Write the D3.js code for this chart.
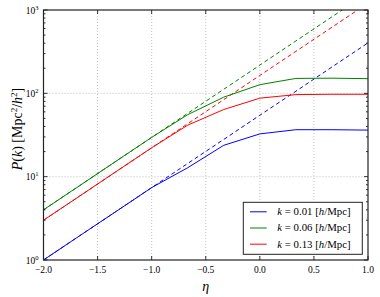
<!DOCTYPE html>
<html>
<head>
<meta charset="utf-8">
<script src="https://cdn.jsdelivr.net/npm/d3@7"></script>
<style>
  body { margin: 0; background: #fff; }
  svg text { font-family: "Liberation Serif", "DejaVu Serif", serif; }
</style>
</head>
<body>
<div id="chart"></div>
<script>
// eta nodes (steps of 1/3)
const eta = [-2, -1.6667, -1.3333, -1, -0.6667, -0.3333, 0, 0.3333, 0.6667, 1];

// solid: measured P(k)
const solidBlue  = [1, 1.95, 3.79, 7.39, 12.8, 23.8, 32.6, 36.6, 36.6, 36.2];
const solidGreen = [4, 7.79, 15.2, 29.6, 55.5, 90, 127, 151, 152, 150];
const solidRed   = [3, 5.84, 11.4, 22.2, 41.5, 64, 87.5, 96.5, 97.5, 97.5];

// dashed: linear growth
const dashBlue  = [1, 1.95, 3.79, 7.39, 14.4, 28.0, 54.6, 106, 207, 403];
const dashGreen = [4, 7.79, 15.2, 29.6, 57.6, 112, 218, 425, 828, 1614];
const dashRed   = [3, 5.84, 11.4, 22.2, 43.2, 84.1, 164, 319, 621, 1210];

const seriesNames = ["k = 0.01", "k = 0.06", "k = 0.13"];
const colors = ["#0000ff", "#008000", "#ff0000"];

const xTicks = [-2.0, -1.5, -1.0, -0.5, 0.0, 0.5, 1.0];
const yTicks = [1, 10, 100, 1000];

const W = 380, H = 297;
const margin = { top: 10, right: 12, bottom: 37, left: 43.5 };
const width = W - margin.left - margin.right,
      height = H - margin.top - margin.bottom;

const svg = d3.select("#chart").append("svg")
    .attr("width", W).attr("height", H);

const g = svg.append("g")
    .attr("transform", `translate(${margin.left}, ${margin.top})`);

const x = d3.scaleLinear().domain([-2, 1]).range([0, width]);
const y = d3.scaleLog().domain([1, 1000]).range([height, 0]);

// clip
svg.append("defs").append("clipPath").attr("id", "clip")
    .append("rect").attr("width", width).attr("height", height);

// grid
g.append("g").selectAll("line").data(xTicks.slice(1, -1)).join("line")
    .attr("x1", d => x(d)).attr("x2", d => x(d))
    .attr("y1", 0).attr("y2", height)
    .attr("stroke", "#b0b0b0").attr("stroke-width", 0.8)
    .attr("stroke-dasharray", "1,2");
g.append("g").selectAll("line").data(yTicks.slice(1, -1)).join("line")
    .attr("y1", d => y(d)).attr("y2", d => y(d))
    .attr("x1", 0).attr("x2", width)
    .attr("stroke", "#b0b0b0").attr("stroke-width", 0.8)
    .attr("stroke-dasharray", "1,2");

// lines
const line = d3.line()
    .x((d, i) => x(eta[i]))
    .y(d => y(d));

const plot = g.append("g").attr("clip-path", "url(#clip)");
const solids = [solidBlue, solidGreen, solidRed];
const dashes = [dashBlue, dashGreen, dashRed];

dashes.forEach((s, i) => {
    plot.append("path").datum(s)
        .attr("d", line).attr("fill", "none")
        .attr("stroke", colors[i]).attr("stroke-width", 1)
        .attr("stroke-dasharray", "4,3");
});
solids.forEach((s, i) => {
    plot.append("path").datum(s)
        .attr("d", line).attr("fill", "none")
        .attr("stroke", colors[i]).attr("stroke-width", 1);
});

// ticks (inside, both sides)
const minor = [];
for (let e = 0; e < 3; e++) for (let m = 2; m <= 9; m++) minor.push(m * Math.pow(10, e));

const ticksG = g.append("g").attr("stroke", "#000").attr("stroke-width", 0.8);
xTicks.forEach(t => {
    ticksG.append("line").attr("x1", x(t)).attr("x2", x(t)).attr("y1", height).attr("y2", height - 4);
    ticksG.append("line").attr("x1", x(t)).attr("x2", x(t)).attr("y1", 0).attr("y2", 4);
});
yTicks.forEach(t => {
    ticksG.append("line").attr("y1", y(t)).attr("y2", y(t)).attr("x1", 0).attr("x2", 4);
    ticksG.append("line").attr("y1", y(t)).attr("y2", y(t)).attr("x1", width).attr("x2", width - 4);
});
minor.forEach(t => {
    ticksG.append("line").attr("y1", y(t)).attr("y2", y(t)).attr("x1", 0).attr("x2", 2);
    ticksG.append("line").attr("y1", y(t)).attr("y2", y(t)).attr("x1", width).attr("x2", width - 2);
});

// frame
g.append("rect").attr("width", width).attr("height", height)
    .attr("fill", "none").attr("stroke", "#222").attr("stroke-width", 1.2);

// x tick labels
g.append("g").selectAll("text").data(xTicks).join("text")
    .attr("x", d => x(d)).attr("y", height + 13)
    .attr("text-anchor", "middle").attr("font-size", 9.5)
    .text(d => (d < 0 ? "\u2212" : "") + Math.abs(d).toFixed(1));

// y tick labels
const yl = g.append("g").selectAll("text").data(yTicks).join("text")
    .attr("x", -5).attr("y", d => y(d) + 3.5)
    .attr("text-anchor", "end").attr("font-size", 9.5);
yl.append("tspan").text("10");
yl.append("tspan").attr("dy", -4).attr("font-size", 6.5).text(d => Math.round(Math.log10(d)));

// axis labels
g.append("text")
    .attr("x", width / 2).attr("y", height + 31)
    .attr("text-anchor", "middle").attr("font-size", 14)
    .attr("font-style", "italic").text("η");

const ylab = svg.append("text")
    .attr("transform", `translate(22, 129) rotate(-90)`)
    .attr("text-anchor", "middle").attr("font-size", 14);
ylab.append("tspan").attr("font-style", "italic").text("P");
ylab.append("tspan").text("(");
ylab.append("tspan").attr("font-style", "italic").text("k");
ylab.append("tspan").text(") [Mpc");
ylab.append("tspan").attr("dy", -5).attr("font-size", 9).text("2");
ylab.append("tspan").attr("dy", 5).text("/");
ylab.append("tspan").attr("font-style", "italic").text("h");
ylab.append("tspan").attr("dy", -5).attr("font-size", 9).text("2");
ylab.append("tspan").attr("dy", 5).text("]");

// legend
const lg = g.append("g").attr("transform", `translate(${243.3 - margin.left}, ${202.3 - margin.top})`);
lg.append("rect").attr("width", 119).attr("height", 52)
    .attr("fill", "#fff").attr("stroke", "#222").attr("stroke-width", 1);
seriesNames.forEach((name, i) => {
    const yy = 9.5 + i * 16.2;
    lg.append("line").attr("x1", 6.7).attr("x2", 23.4).attr("y1", yy).attr("y2", yy)
        .attr("stroke", colors[i]).attr("stroke-width", 1);
    const t = lg.append("text").attr("x", 34).attr("y", yy + 3.5).attr("font-size", 10.8);
    const parts = name.split(" = ");
    t.append("tspan").attr("font-style", "italic").text(parts[0]);
    t.append("tspan").text(" = " + parts[1] + " [");
    t.append("tspan").attr("font-style", "italic").text("h");
    t.append("tspan").text("/Mpc]");
});
</script>
</body>
</html>
